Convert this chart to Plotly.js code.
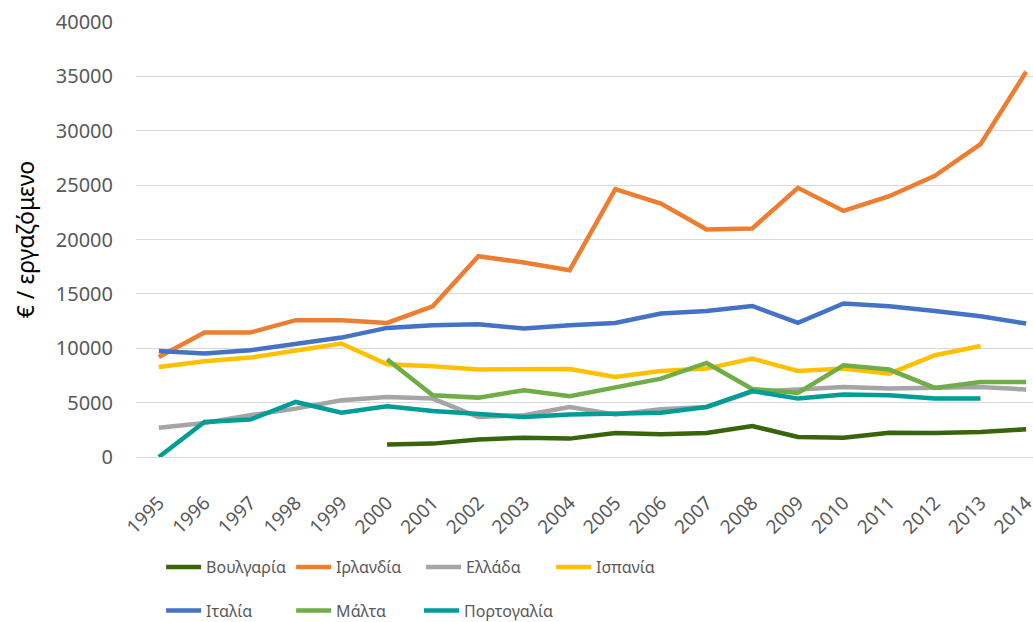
<!DOCTYPE html>
<html>
<head>
<meta charset="utf-8">
<script src="https://cdn.plot.ly/plotly-3.0.1.min.js"></script>
<style>
	html, body { margin: 0; padding: 0; background: #ffffff; }
	#chart { width: 1033px; height: 622px; }
</style>
</head>
<body>
<div id="chart"></div>
<script>
var years = ['1995', '1996', '1997', '1998', '1999', '2000', '2001', '2002', '2003', '2004',
	'2005', '2006', '2007', '2008', '2009', '2010', '2011', '2012', '2013', '2014'];

var bulgaria = [null, null, null, null, null, 1140, 1230, 1600, 1780, 1690,
	2210, 2090, 2210, 2850, 1840, 1780, 2240, 2210, 2300, 2550];
var ireland = [9200, 11440, 11440, 12580, 12580, 12330, 13860, 18460, 17880, 17180,
	24630, 23310, 20920, 21010, 24750, 22630, 23980, 25850, 28770, 35420];
var greece = [2700, 3130, 3840, 4450, 5220, 5520, 5370, 3680, 3840, 4600,
	3900, 4400, 4600, 6000, 6200, 6440, 6290, 6380, 6440, 6200];
var spain = [8280, 8800, 9140, 9820, 10430, 8530, 8340, 8040, 8040, 8100,
	7360, 7910, 8130, 9050, 7910, 8130, 7670, 9360, 10210, null];
var italy = [9750, 9510, 9820, 10430, 10980, 11870, 12120, 12210, 11810, 12120,
	12330, 13190, 13430, 13890, 12330, 14110, 13860, 13430, 12940, 12270];
var malta = [null, null, null, null, null, 8990, 5680, 5460, 6140, 5580,
	6440, 7210, 8650, 6250, 5890, 8440, 8040, 6350, 6900, 6900];
var portugal = [0, 3220, 3440, 5060, 4080, 4660, 4230, 3930, 3680, 3900,
	3990, 4080, 4600, 6070, 5370, 5740, 5680, 5370, 5370, null];

var seriesNames = ['Βουλγαρία', 'Ιρλανδία', 'Ελλάδα', 'Ισπανία', 'Ιταλία', 'Μάλτα', 'Πορτογαλία'];
var seriesValues = [bulgaria, ireland, greece, spain, italy, malta, portugal];
var seriesColors = ['#38640b', '#ed7d31', '#a5a5a5', '#ffc000', '#4472c4', '#70ad47', '#009c98'];
// four entries on the first legend row, three on the second
// (Πορτογαλία gets its own box so the last text is not clipped)
var seriesLegend = ['legend', 'legend', 'legend', 'legend', 'legend2', 'legend2', 'legend3'];

var data = [];
for (var i = 0; i < seriesNames.length; i++) {
	data.push({
		x : years,
		y : seriesValues[i],
		type : 'scatter',
		mode : 'lines',
		name : seriesNames[i],
		legend : seriesLegend[i],
		connectgaps : false,
		line : {
			color : seriesColors[i],
			width : 4.5
		},
		hoverinfo : 'x+y+name'
	});
}

var legendFont = {
	family : '"Noto Sans", "Open Sans", sans-serif',
	size : 16,
	color : '#595959'
};

var layout = {
	width : 1033,
	height : 622,
	margin : {
		l : 136,
		r : 0,
		t : 22,
		b : 165,
		autoexpand : false
	},
	paper_bgcolor : '#ffffff',
	plot_bgcolor : '#ffffff',
	font : {
		family : '"Noto Sans", "Open Sans", sans-serif',
		color : '#595959'
	},
	xaxis : {
		type : 'category',
		range : [-0.5, 19.15],
		showgrid : false,
		zeroline : false,
		showline : false,
		ticks : '',
		tickangle : -45,
		ticklabelstandoff : 30,
		tickfont : {
			size : 19,
			color : '#595959'
		}
	},
	yaxis : {
		range : [0, 40000],
		dtick : 5000,
		tickformat : 'd',
		showgrid : true,
		gridcolor : '#d9d9d9',
		gridwidth : 1,
		zeroline : true,
		zerolinecolor : '#d9d9d9',
		zerolinewidth : 1,
		showline : false,
		ticks : '',
		ticklabelstandoff : 22,
		tickfont : {
			size : 20,
			color : '#595959'
		},
		title : {
			text : '€ / εργαζόμενο',
			font : {
				size : 23,
				color : '#000000'
			},
			standoff : 14
		}
	},
	showlegend : true,
	legend : {
		orientation : 'h',
		x : 0.028,
		xanchor : 'left',
		y : -0.253,
		yanchor : 'middle',
		entrywidth : 80,
		entrywidthmode : 'pixels',
		itemwidth : 35,
		font : legendFont
	},
	legend2 : {
		orientation : 'h',
		x : 0.028,
		xanchor : 'left',
		y : -0.353,
		yanchor : 'middle',
		entrywidth : 80,
		entrywidthmode : 'pixels',
		itemwidth : 35,
		font : legendFont
	},
	legend3 : {
		orientation : 'h',
		x : 0.3155,
		xanchor : 'left',
		y : -0.353,
		yanchor : 'middle',
		itemwidth : 35,
		font : legendFont
	}
};

var config = {
	displayModeBar: false
};
var container = document.getElementById('chart');
Plotly.newPlot(container, data, layout, config);
</script>
</body>
</html>
